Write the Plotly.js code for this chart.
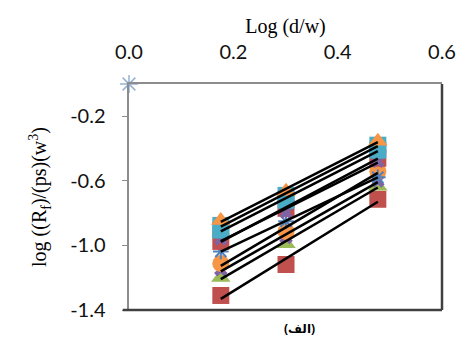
<!DOCTYPE html>
<html><head><meta charset="utf-8">
<script src="https://cdn.plot.ly/plotly-3.0.1.min.js"></script>
<style>body{margin:0;padding:0;background:#fff}#c{width:462px;height:341px}</style>
</head><body><div id="c"></div>
<script>
const xVals = [0.176, 0.301, 0.477];
const seriesNames = ['s1','s2','s3','s4','s5','s6','s7','s8','s9','s10'];
const s1 = [-0.845, -0.665, -0.354];
const s2 = [-0.876, -0.690, -0.379];
const s3 = [-0.905, -0.720, -0.410];
const s4 = [-0.960, -0.795, -0.478];
const s5 = [-0.975, -0.770, -0.460];
const s6 = [-1.037, -0.850, -0.578];
const s7 = [-1.112, -0.913, -0.540];
const s8 = [-1.150, -0.950, -0.600];
const s9 = [-1.199, -0.990, -0.634];
const s10 = [-1.310, -1.118, -0.714];
const originX = [0];
const originY = [0];
const xTicks = [0, 0.2, 0.4, 0.6];
const yTicks = [-1.4, -1.0, -0.6, -0.2];

const allSeries = [s1,s2,s3,s4,s5,s6,s7,s8,s9,s10];
const styles = [
  {symbol:'triangle-up', color:'#F79646'},
  {symbol:'square', color:'#4BACC6'},
  {symbol:'square', color:'#4BACC6'},
  {symbol:'x', color:'#8064A2'},
  {symbol:'square', color:'#C0504D'},
  {symbol:'asterisk-open', color:'#4F81BD'},
  {symbol:'circle', color:'#F79646'},
  {symbol:'x', color:'#8064A2'},
  {symbol:'triangle-up', color:'#9BBB59'},
  {symbol:'square', color:'#C0504D'}
];
const drawOrder = [9,8,7,6,5,4,3,2,1,0];

function fit(xs, ys){
  const n = xs.length;
  const mx = xs.reduce((a,b)=>a+b,0)/n, my = ys.reduce((a,b)=>a+b,0)/n;
  let sxy=0, sxx=0;
  for(let i=0;i<n;i++){sxy+=(xs[i]-mx)*(ys[i]-my); sxx+=(xs[i]-mx)**2;}
  const b = sxy/sxx, a = my - b*mx;
  return [a + b*xs[0], a + b*xs[n-1]];
}

const traces = [];
drawOrder.forEach(i=>{
  const st = styles[i];
  traces.push({x:xVals, y:allSeries[i], type:'scatter', mode:'markers', name:seriesNames[i],
    marker:{symbol:st.symbol, size: st.symbol==='asterisk-open'?13:(st.symbol==='x'?12:17), color:st.color,
      line:{color:st.color, width: st.symbol==='asterisk-open'?2:0}},
    cliponaxis:false, showlegend:false, hoverinfo:'skip'});
});
allSeries.forEach((s,i)=>{
  const f = fit(xVals, s);
  traces.push({x:[xVals[0], xVals[xVals.length-1]], y:f, type:'scatter', mode:'lines',
    line:{color:'#000', width:2.5}, showlegend:false, hoverinfo:'skip'});
});
traces.push({x:originX, y:originY, type:'scatter', mode:'markers',
  marker:{symbol:'asterisk-open', size:15, color:'#95B3D7', line:{color:'#95B3D7', width:1.5}},
  cliponaxis:false, showlegend:false, hoverinfo:'skip'});

const tickFont = {family:'Lato, "Open Sans", sans-serif', size:20, color:'#111'};
const layout = {
  width:462, height:341,
  margin:{l:129, r:20, t:84, b:31},
  paper_bgcolor:'#fff', plot_bgcolor:'#fff',
  showlegend:false,
  xaxis:{side:'top', range:[0,0.6], tickvals:xTicks, ticktext:xTicks.map(v=>v.toFixed(1)),
    showgrid:false, zeroline:false, showline:true, linecolor:'#8c8c8c', linewidth:2.5,
    ticks:'', ticklabelstandoff:15,
    tickfont:tickFont,
    title:{text:'Log (d/w)', font:{family:'"Liberation Serif", "Times New Roman", serif', size:20, color:'#000'}, standoff:0}},
  yaxis:{range:[-1.4,0], tickvals:yTicks, ticktext:yTicks.map(v=>v.toFixed(1)),
    showgrid:false, zeroline:false, showline:true, linecolor:'#8c8c8c', linewidth:2.5,
    ticks:'outside', ticklen:5, tickcolor:'#8c8c8c', ticklabelstandoff:12,
    tickfont:tickFont,
    title:{text:'log ((R<sub>f</sub>)/(ps)(w<sup>3</sup>)', font:{family:'"Liberation Serif", "Times New Roman", serif', size:20, color:'#000'}, standoff:18}},
  shapes:[
    {type:'line', xref:'paper', yref:'paper', x0:1, x1:1, y0:0, y1:1, line:{color:'#404040', width:2.5}},
    {type:'line', xref:'paper', yref:'paper', x0:-0.02, x1:1, y0:0, y1:0, line:{color:'#404040', width:2.5}}
  ],
  annotations:[
    {text:'<b>(الف)</b>', xref:'paper', yref:'paper', x:0.545, y:-0.08, yanchor:'middle', showarrow:false,
      font:{family:'"Noto Sans", "DejaVu Sans", sans-serif', size:12, color:'#000'}}
  ]
};
Plotly.newPlot('c', traces, layout, {displayModeBar:false, staticPlot:true});
</script></body></html>
